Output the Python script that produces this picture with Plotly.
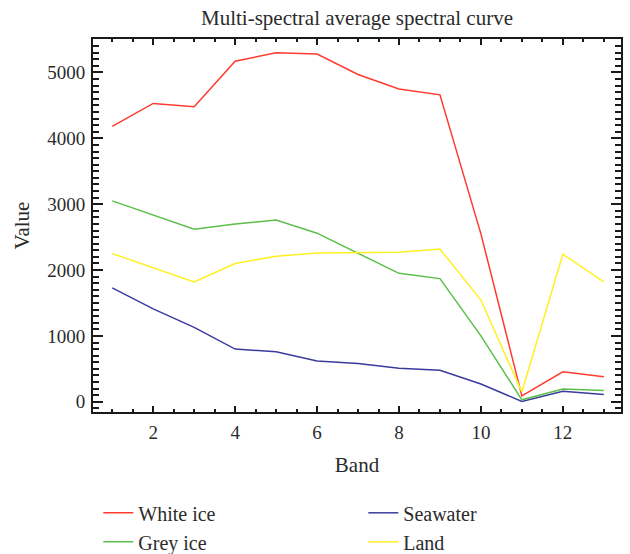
import plotly.graph_objects as go

bands = [1, 2, 3, 4, 5, 6, 7, 8, 9, 10, 11, 12, 13]
white_ice = [4180, 4530, 4480, 5170, 5300, 5280, 4970, 4750, 4660, 2550, 90, 455, 380]
grey_ice = [3050, 2840, 2620, 2700, 2760, 2560, 2250, 1950, 1870, 1000, 30, 195, 170]
seawater = [1730, 1410, 1130, 800, 760, 620, 580, 510, 480, 270, 5, 160, 110]
land = [2250, 2030, 1820, 2100, 2210, 2260, 2270, 2270, 2320, 1545, 150, 2240, 1820]

series = [
    ("White ice", white_ice, "#ff3b2f"),
    ("Seawater", seawater, "#3b3b9e"),
    ("Grey ice", grey_ice, "#5cbf4a"),
    ("Land", land, "#fff022"),
]

FONT = "Liberation Serif"
TXT = "#2b2b2b"
fig = go.Figure()
for name, vals, col in series:
    fig.add_trace(go.Scatter(x=bands, y=vals, mode="lines", name=name,
                             line=dict(color=col, width=1.5)))

axis_common = dict(
    showline=True, linecolor="#1a1a1a", linewidth=2, mirror="ticks",
    ticks="inside", tickcolor="#1a1a1a", tickwidth=2, showgrid=False, zeroline=False,
    tickfont=dict(family=FONT, size=19, color=TXT),
)
fig.update_layout(
    width=630, height=554,
    margin=dict(l=93, r=9, t=39, b=142, autoexpand=False),
    paper_bgcolor="white", plot_bgcolor="white",
    title=dict(text="Multi-spectral average spectral curve", x=0.5, xref="paper",
               xanchor="center", y=0.969, yref="container", yanchor="middle",
               font=dict(family=FONT, size=21, color=TXT)),
    xaxis=dict(range=[0.53, 13.42], dtick=2, tick0=0, ticklen=6, ticklabelstandoff=2,
               minor=dict(dtick=0.5, tick0=0, ticks="inside", ticklen=3,
                          tickwidth=2, tickcolor="#1a1a1a"),
               title=dict(text="Band", font=dict(family=FONT, size=21, color=TXT), standoff=16),
               **axis_common),
    yaxis=dict(range=[-155, 5508], dtick=1000, ticklen=10, ticklabelstandoff=2,
               minor=dict(dtick=100, ticks="inside", ticklen=6,
                          tickwidth=2, tickcolor="#1a1a1a"),
               title=dict(text="Value", font=dict(family=FONT, size=21, color=TXT), standoff=12),
               **axis_common),
    legend=dict(orientation="h", x=0.01, xanchor="left", y=-0.218, yanchor="top",
                entrywidth=220, entrywidthmode="pixels",
                font=dict(family=FONT, size=20, color=TXT), tracegroupgap=0),
    showlegend=True,
)
fig.write_html("out.html", config={"displayModeBar": False},
               post_script="document.body.style.margin='0';")
